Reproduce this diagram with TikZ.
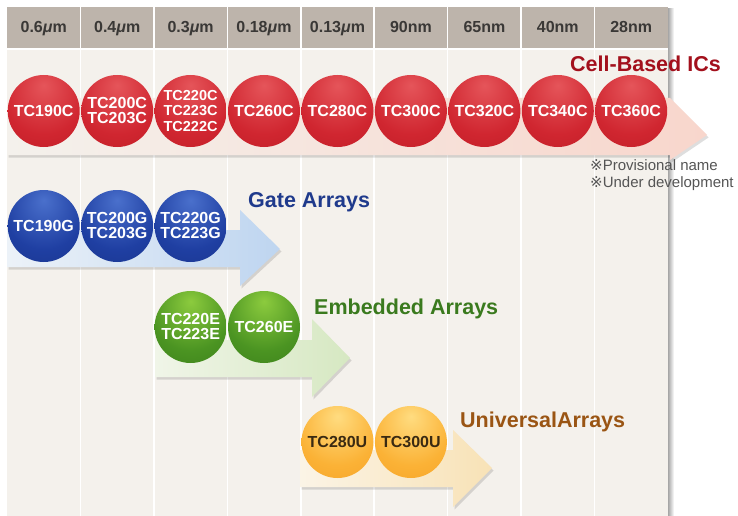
\documentclass[tikz,border=0pt]{standalone}
\usepackage{fontspec}
\setmainfont{Liberation Sans}
\newfontfamily\symf{DejaVu Sans}
\definecolor{panelc}{HTML}{F4F1EC}
\definecolor{headc}{HTML}{BDB4AB}
\definecolor{headtxt}{HTML}{3A3836}
\definecolor{redhi}{HTML}{E5555A}
\definecolor{redmid}{HTML}{D02630}
\definecolor{redlo}{HTML}{AE141D}
\definecolor{bluehi}{HTML}{4A70CC}
\definecolor{bluemid}{HTML}{1F3FA2}
\definecolor{bluelo}{HTML}{142A78}
\definecolor{greenhi}{HTML}{8CCB3E}
\definecolor{greenmid}{HTML}{4B9422}
\definecolor{greenlo}{HTML}{2A6A12}
\definecolor{orangehi}{HTML}{FFDC80}
\definecolor{orangemid}{HTML}{FBB236}
\definecolor{orangelo}{HTML}{F0931A}
\definecolor{cellc}{HTML}{A3101C}
\definecolor{gatec}{HTML}{1F3A8C}
\definecolor{embc}{HTML}{3A7A1E}
\definecolor{univc}{HTML}{9A5514}
\definecolor{notec}{HTML}{555555}
\definecolor{utxt}{HTML}{3A2A12}
\pgfdeclareradialshading{redball}{\pgfpoint{0bp}{18bp}}{color(0bp)=(redhi); color(28bp)=(redmid); color(64bp)=(redlo); color(80bp)=(redlo)}
\pgfdeclareradialshading{blueball}{\pgfpoint{0bp}{18bp}}{color(0bp)=(bluehi); color(28bp)=(bluemid); color(64bp)=(bluelo); color(80bp)=(bluelo)}
\pgfdeclareradialshading{greenball}{\pgfpoint{0bp}{18bp}}{color(0bp)=(greenhi); color(28bp)=(greenmid); color(64bp)=(greenlo); color(80bp)=(greenlo)}
\pgfdeclareradialshading{orangeball}{\pgfpoint{0bp}{18bp}}{color(0bp)=(orangehi); color(28bp)=(orangemid); color(64bp)=(orangelo); color(80bp)=(orangelo)}
\begin{document}
\begin{tikzpicture}[x=1pt,y=-1pt,
  ball/.style={circle, minimum size=72pt, inner sep=0pt, align=center, text=white,
    font=\fontsize{16}{15}\selectfont\bfseries},
  ballthree/.style={ball, font=\fontsize{14.5}{15.5}\selectfont\bfseries},
  hdr/.style={anchor=base, text=headtxt, font=\fontsize{16}{18}\selectfont\bfseries},
  lbl/.style={anchor=base west, inner sep=0pt, font=\fontsize{21.5}{24}\selectfont\bfseries},
  note/.style={anchor=base west, inner sep=0pt, text=notec, font=\fontsize{15}{17}\selectfont},
  ashadow/.style={fill=black, opacity=0.13}
]
\useasboundingbox (0,0) rectangle (738,516);
\fill[white] (0,0) rectangle (738,516);
% panel shadow and panel
\shade[left color=black!35, right color=white] (668,9) rectangle (674,516);
\fill[panelc] (7,7) rectangle (668,516);
\fill[headc] (7,7) rectangle (668,48);
\draw[white, line width=1.5pt] (7,49) -- (668,49);
\foreach \i in {1,...,8} \draw[white, line width=1.5pt] ({7+73.44*\i},7) -- ({7+73.44*\i},516);
% header labels
\node[hdr] (h1) at (43.7,33) {0.6\textit{μ}m};
\node[hdr] (h2) at (117.2,33) {0.4\textit{μ}m};
\node[hdr] (h3) at (190.6,33) {0.3\textit{μ}m};
\node[hdr] (h4) at (264.0,33) {0.18\textit{μ}m};
\node[hdr] (h5) at (337.5,33) {0.13\textit{μ}m};
\node[hdr] (h6) at (410.9,33) {90nm};
\node[hdr] (h7) at (484.4,33) {65nm};
\node[hdr] (h8) at (557.8,33) {40nm};
\node[hdr] (h9) at (631.2,33) {28nm};
% arrows
\fill[ashadow] (8.5,100.5) -- (671.5,100.5) -- (708.5,137.5) -- (671.5,162.5) -- (671.5,157.5) -- (8.5,157.5) -- cycle;
\shade[left color=panelc, right color={rgb,255:red,248;green,214;blue,204}] (7,98) -- (670,98) -- (707,135) -- (670,160) -- (670,155) -- (7,155) -- cycle;
\fill[ashadow] (8.5,232.5) -- (241.5,232.5) -- (241.5,212.5) -- (281.5,251.5) -- (241.5,288.5) -- (241.5,269.5) -- (8.5,269.5) -- cycle;
\shade[left color={rgb,255:red,236;green,242;blue,248}, right color={rgb,255:red,190;green,213;blue,240}] (7,230) -- (240,230) -- (240,210) -- (280,249) -- (240,286) -- (240,267) -- (7,267) -- cycle;
\fill[ashadow] (156.5,342.5) -- (313.5,342.5) -- (313.5,321.5) -- (351.5,360.5) -- (313.5,399.5) -- (313.5,379.5) -- (156.5,379.5) -- cycle;
\shade[left color={rgb,255:red,240;green,245;blue,232}, right color={rgb,255:red,214;green,232;blue,194}] (155,340) -- (312,340) -- (312,319) -- (350,358) -- (312,397) -- (312,377) -- (155,377) -- cycle;
\fill[ashadow] (301.5,452.5) -- (454.5,452.5) -- (454.5,432.5) -- (493.5,470.5) -- (454.5,509.5) -- (454.5,489.5) -- (301.5,489.5) -- cycle;
\shade[left color={rgb,255:red,251;green,244;blue,230}, right color={rgb,255:red,248;green,226;blue,182}] (300,450) -- (453,450) -- (453,430) -- (492,468) -- (453,507) -- (453,487) -- (300,487) -- cycle;
% cell-based circles
\node[ball, shading=redball] (c1) at (43.7,111) {TC190C};
\node[ball, shading=redball] (c2) at (117.2,111) {TC200C\\TC203C};
\node[ballthree, shading=redball] (c3) at (190.6,111) {TC220C\\TC223C\\TC222C};
\node[ball, shading=redball] (c4) at (264.0,111) {TC260C};
\node[ball, shading=redball] (c5) at (337.5,111) {TC280C};
\node[ball, shading=redball] (c6) at (410.9,111) {TC300C};
\node[ball, shading=redball] (c7) at (484.4,111) {TC320C};
\node[ball, shading=redball] (c8) at (557.8,111) {TC340C};
\node[ball, shading=redball] (c9) at (631.2,111) {TC360C};
% gate arrays
\node[ball, shading=blueball] (g1) at (43.7,226) {TC190G};
\node[ball, shading=blueball] (g2) at (117.2,226) {TC200G\\TC203G};
\node[ball, shading=blueball] (g3) at (190.6,226) {TC220G\\TC223G};
% embedded arrays
\node[ball, shading=greenball] (e1) at (190.6,327) {TC220E\\TC223E};
\node[ball, shading=greenball] (e2) at (264.0,327) {TC260E};
% universal arrays
\node[ball, shading=orangeball, text=utxt] (u1) at (337.5,442) {TC280U};
\node[ball, shading=orangeball, text=utxt] (u2) at (410.9,442) {TC300U};
% labels
\node[lbl, text=cellc] (lc) at (570,72) {Cell-Based ICs};
\node[lbl, text=gatec] (lg) at (248,207) {Gate Arrays};
\node[lbl, text=embc] (le) at (314,314) {Embedded Arrays};
\node[lbl, text=univc] (lu) at (460,427) {UniversalArrays};
\node[note] (n1) at (590,170) {{\symf ※}Provisional name};
\node[note] (n2) at (590,187) {{\symf ※}Under development};
\end{tikzpicture}
\end{document}
